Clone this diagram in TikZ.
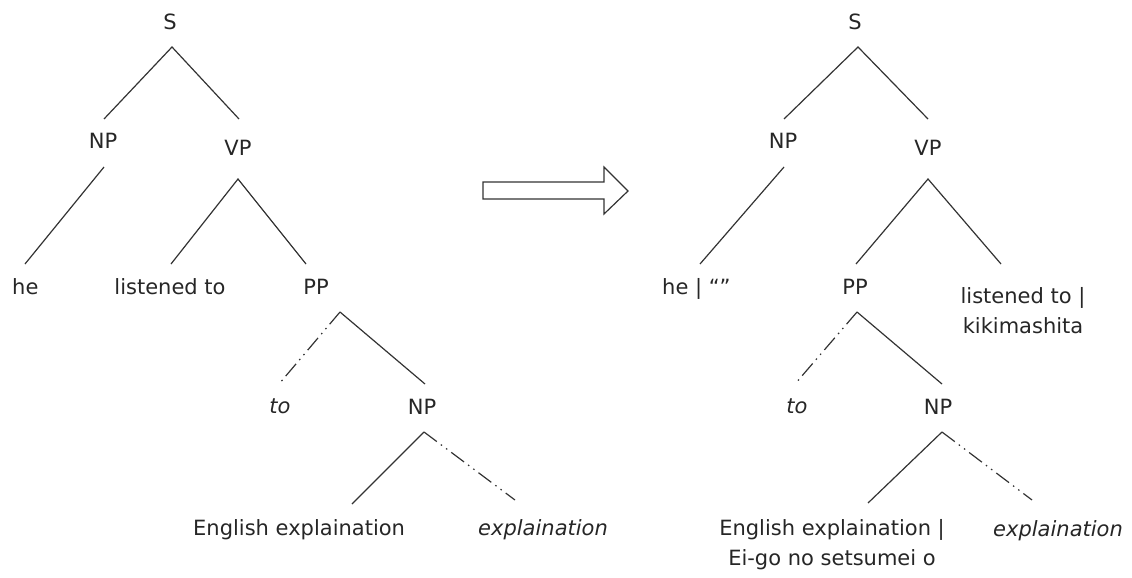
\documentclass[tikz,border=0pt]{standalone}
\usepackage{fontspec}
\setmainfont{DejaVu Sans}
\begin{document}
\begin{tikzpicture}[x=1pt,y=-1pt,
  lbl/.style={inner sep=0pt,anchor=base,text=black!85},
  ital/.style={lbl,font=\fontsize{21}{30}\selectfont\itshape},
  edge/.style={draw=black!80,line width=1.2pt},
  dedge/.style={edge,dash pattern=on 16pt off 5pt on 1.5pt off 5pt on 1.5pt off 5pt},
  font=\fontsize{21}{30}\selectfont]
\useasboundingbox (0,0) rectangle (1132,578);
% ---------- left tree ----------
\node[lbl] (LS) at (170,30) {S};
\node[lbl] (LNP) at (103,148) {NP};
\node[lbl] (LVP) at (238,155) {VP};
\node[lbl,anchor=base west] (Lhe) at (12,294) {he};
\node[lbl] (Llt) at (170,294) {listened to};
\node[lbl] (LPP) at (316,294) {PP};
\node[ital] (Lto) at (280,413) {to};
\node[lbl] (LNP2) at (422,414) {NP};
\node[lbl,anchor=base west] (LEE) at (193,535) {English explaination};
\node[ital,anchor=base west] (Lex) at (478,535) {explaination};
\coordinate (LSb) at (172,47);
\coordinate (LNPa) at (104,119);
\coordinate (LVPa) at (239,119);
\coordinate (LNPb) at (104,167);
\coordinate (Lhea) at (25,264);
\coordinate (LVPb) at (238,179);
\coordinate (Llta) at (171,264);
\coordinate (LPPa) at (306,264);
\coordinate (LPPb) at (340,312);
\coordinate (Ltoa) at (279,384);
\coordinate (LNP2a) at (425,384);
\coordinate (LNP2b) at (424,432);
\coordinate (LEEa) at (352,504);
\coordinate (Lexa) at (515,500);
\draw[edge] (LNPa) -- (LSb) -- (LVPa);
\draw[edge] (LNPb) -- (Lhea);
\draw[edge] (Llta) -- (LVPb) -- (LPPa);
\draw[dedge] (LPPb) -- (Ltoa);
\draw[edge] (LPPb) -- (LNP2a);
\draw[edge] (LNP2b) -- (LEEa);
\draw[dedge] (LNP2b) -- (Lexa);
% ---------- arrow ----------
\draw[draw=black!80,line width=1.2pt,fill=white]
  (483,182) -- (604,182) -- (604,167) -- (628,191) -- (604,214) -- (604,199) -- (483,199) -- cycle;
% ---------- right tree ----------
\node[lbl] (RS) at (855,30) {S};
\node[lbl] (RNP) at (783,148) {NP};
\node[lbl] (RVP) at (928,155) {VP};
\node[lbl,anchor=base west] (Rhe) at (662,294) {he | “”};
\node[lbl] (RPP) at (855,294) {PP};
\node[lbl,align=center] (Rlt) at (1023,333) {listened to |\\kikimashita};
\node[ital] (Rto) at (797,413) {to};
\node[lbl] (RNP2) at (938,414) {NP};
\node[lbl,align=center] (REE) at (832,565) {English explaination |\\Ei-go no setsumei o};
\node[ital,anchor=base west] (Rex) at (993,536) {explaination};
\coordinate (RSb) at (858,47);
\coordinate (RNPa) at (784,119);
\coordinate (RVPa) at (928,119);
\coordinate (RNPb) at (784,167);
\coordinate (Rhea) at (700,264);
\coordinate (RVPb) at (928,179);
\coordinate (RPPa) at (856,264);
\coordinate (Rlta) at (1001,264);
\coordinate (RPPb) at (857,312);
\coordinate (Rtoa) at (795,384);
\coordinate (RNP2a) at (942,384);
\coordinate (RNP2b) at (942,432);
\coordinate (REEa) at (868,503);
\coordinate (Rexa) at (1032,500);
\draw[edge] (RNPa) -- (RSb) -- (RVPa);
\draw[edge] (RNPb) -- (Rhea);
\draw[edge] (RPPa) -- (RVPb) -- (Rlta);
\draw[dedge] (RPPb) -- (Rtoa);
\draw[edge] (RPPb) -- (RNP2a);
\draw[edge] (RNP2b) -- (REEa);
\draw[dedge] (RNP2b) -- (Rexa);
\end{tikzpicture}
\end{document}
